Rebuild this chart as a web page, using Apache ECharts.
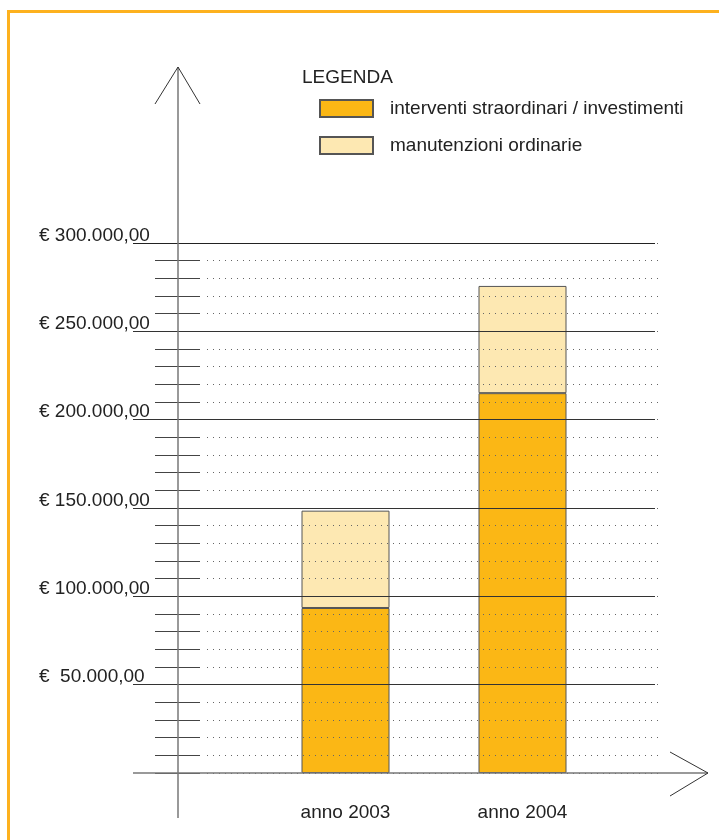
<!DOCTYPE html>
<html>
<head>
<meta charset="utf-8">
<script src="https://cdn.jsdelivr.net/npm/echarts@6/dist/echarts.min.js"></script>
<style>
html,body{margin:0;padding:0;background:#fff;}
#chart{width:719px;height:840px;}
</style>
</head>
<body>
<div id="chart"></div>
<script>
// ---- data ----
const categories = ['anno 2003', 'anno 2004'];
const straordinari = [93400, 215000];   // interventi straordinari / investimenti
const ordinarie = [55100, 60700];       // manutenzioni ordinarie
const seriesNames = ['interventi straordinari / investimenti', 'manutenzioni ordinarie'];
const yTickLabels = ['', '€  50.000,00', '€ 100.000,00', '€ 150.000,00', '€ 200.000,00', '€ 250.000,00', '€ 300.000,00'];
const yMax = 300000;
const majorStep = 50000;
const minorStep = 10000;

const FONT = '"Liberation Sans", Arial, sans-serif';
const FS = 19;
const TOP = 243, H = 530;

const chart = echarts.init(document.getElementById('chart'), null, {renderer: 'canvas'});

function hiddenX(i) {
  return {type: 'value', gridIndex: i, show: false, min: 0, max: 1};
}

const option = {
  backgroundColor: '#ffffff',
  animation: false,
  title: {
    text: 'LEGENDA',
    left: 302, top: 68, padding: 0,
    textStyle: {fontFamily: FONT, fontSize: FS, fontWeight: 'normal', color: '#222'}
  },
  legend: {
    orient: 'vertical',
    left: 319, top: 99, padding: 0,
    itemWidth: 53, itemHeight: 17, itemGap: 18,
    icon: 'rect',
    selectedMode: false,
    data: seriesNames,
    textStyle: {fontFamily: FONT, fontSize: FS, color: '#222', lineHeight: 17, padding: [0, 0, 0, 12]}
  },
  grid: [
    {left: 257, width: 354, top: TOP, height: H},          // bars
    {left: 133, right: 64, top: TOP, height: H},           // solid major lines + labels
    {left: 207, right: 59, top: TOP, height: H},           // dotted minor lines
    {left: 155, width: 45, top: TOP, height: H}            // minor ticks across y axis
  ],
  xAxis: [
    {
      type: 'category', gridIndex: 0, data: categories,
      axisLine: {show: false}, axisTick: {show: false},
      axisLabel: {fontFamily: FONT, fontSize: FS, color: '#222', margin: 30}
    },
    hiddenX(1), hiddenX(2), hiddenX(3)
  ],
  yAxis: [
    {type: 'value', gridIndex: 0, min: 0, max: yMax, interval: majorStep, show: false},
    {
      type: 'value', gridIndex: 1, min: 0, max: yMax, interval: majorStep, z: 6,
      axisLine: {show: false}, axisTick: {show: false},
      splitLine: {show: true, lineStyle: {color: ['rgba(0,0,0,0)', '#333', '#333', '#333', '#333', '#333', '#222'], width: 1}},
      axisLabel: {
        show: true, align: 'left', margin: 94, verticalAlign: 'bottom', lineHeight: 15,
        fontFamily: FONT, fontSize: FS, color: '#222',
        formatter: function (v) { return yTickLabels[Math.round(v / majorStep)] || ''; }
      }
    },
    {
      type: 'value', gridIndex: 2, min: 0, max: yMax, interval: minorStep, z: 5,
      axisLine: {show: false}, axisTick: {show: false}, axisLabel: {show: false},
      splitLine: {show: true, lineStyle: {color: '#666', width: 1, type: [1, 5]}}
    },
    {
      type: 'value', gridIndex: 3, min: 0, max: yMax, interval: minorStep, z: 5,
      axisLine: {show: false}, axisTick: {show: false}, axisLabel: {show: false},
      splitLine: {show: true, lineStyle: {color: '#444', width: 1}}
    }
  ],
  series: [
    {
      name: seriesNames[0], type: 'bar', stack: 'tot', xAxisIndex: 0, yAxisIndex: 0,
      barWidth: 88, data: straordinari,
      itemStyle: {color: '#FBB715', borderColor: '#555', borderWidth: 1}
    },
    {
      name: seriesNames[1], type: 'bar', stack: 'tot', xAxisIndex: 0, yAxisIndex: 0,
      barWidth: 88, data: ordinarie,
      itemStyle: {color: '#FDE8B2', borderColor: '#555', borderWidth: 1}
    }
  ],
  graphic: [
    // orange frame (top + left)
    {type: 'polyline', z: 10, shape: {points: [[8.5, 840], [8.5, 11.5], [719, 11.5]]},
     style: {stroke: '#FDB11E', lineWidth: 3, fill: null}},
    // y axis line
    {type: 'line', z: 8, shape: {x1: 178, y1: 67, x2: 178, y2: 818},
     style: {stroke: '#777', lineWidth: 1.5}},
    {type: 'polyline', z: 8, shape: {points: [[155, 104], [178, 67], [200, 104]]},
     style: {stroke: '#333', lineWidth: 1, fill: null}},
    // x axis line
    {type: 'line', z: 8, shape: {x1: 133, y1: 773, x2: 708, y2: 773},
     style: {stroke: '#777', lineWidth: 1.5}},
    {type: 'polyline', z: 8, shape: {points: [[670, 752], [708, 773], [670, 796]]},
     style: {stroke: '#333', lineWidth: 1, fill: null}}
  ]
};

chart.setOption(option);
</script>
</body>
</html>
